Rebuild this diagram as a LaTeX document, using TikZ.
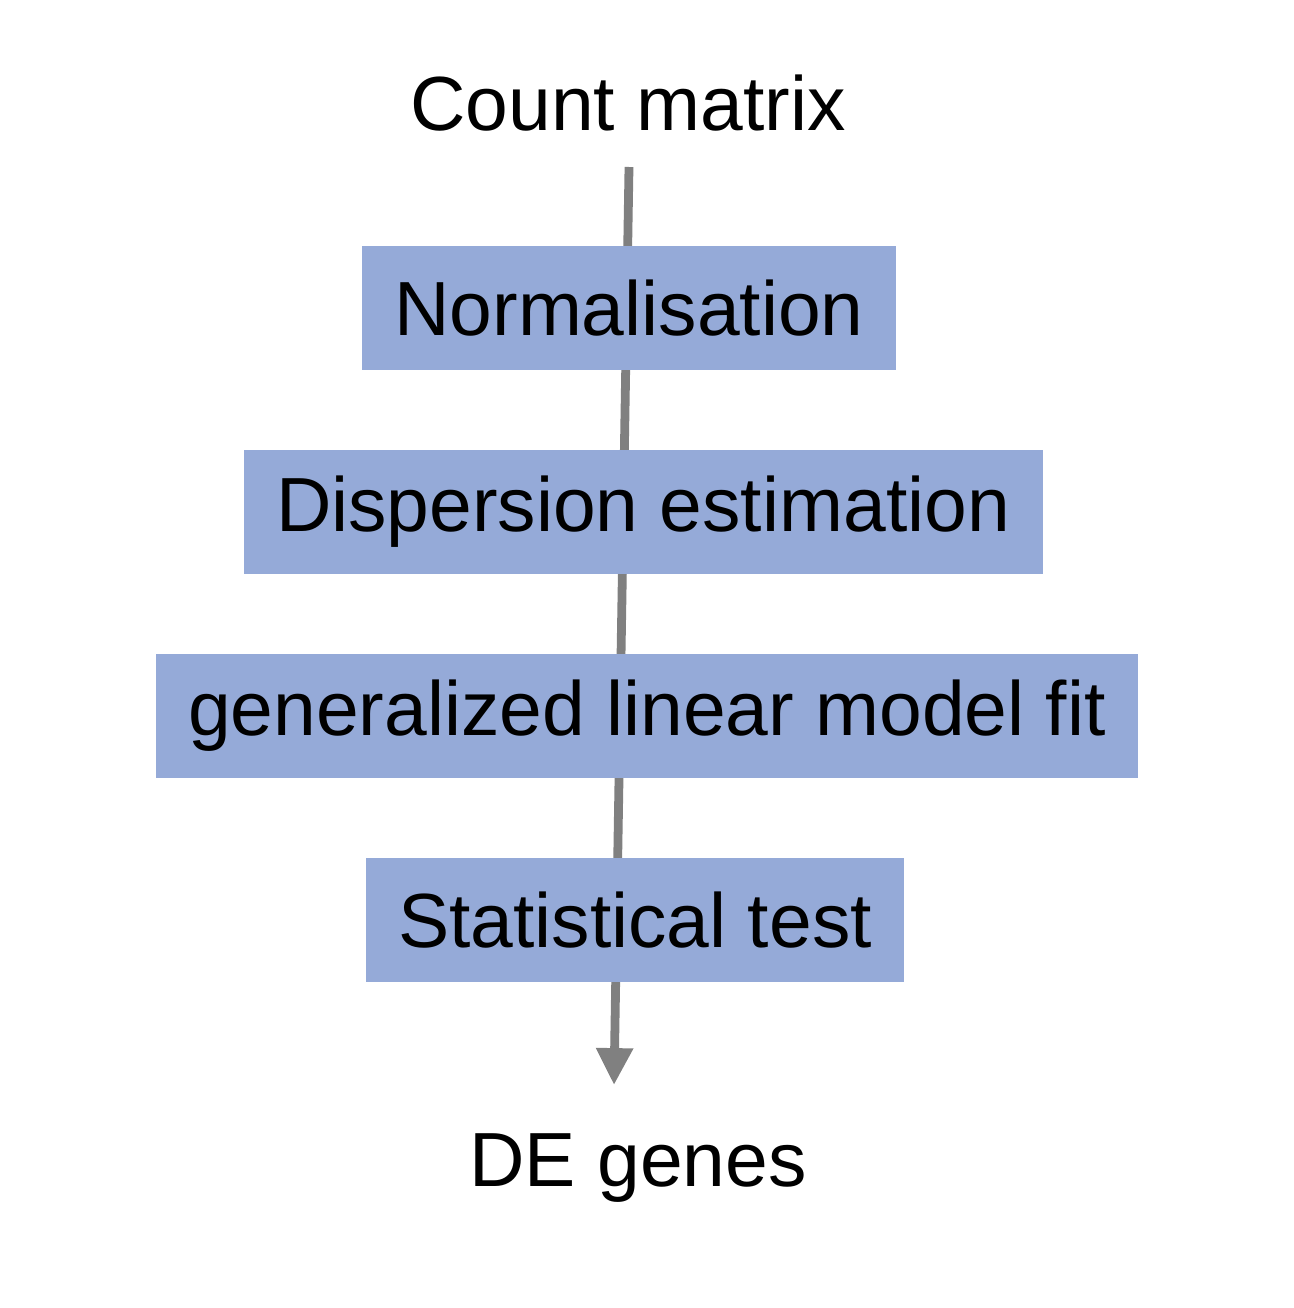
\documentclass[tikz,border=0pt]{standalone}
\usepackage{fontspec}
\setmainfont{Liberation Sans}
\usetikzlibrary{arrows.meta}
\definecolor{stepblue}{RGB}{149,170,216}
\definecolor{flowgray}{RGB}{128,128,128}
\tikzset{
  stepbox/.style={fill=stepblue, inner xsep=18.5pt, minimum height=70.3pt, font=\fontsize{43.7}{50}\selectfont},
  label/.style={font=\fontsize{43.7}{50}\selectfont},
  flow/.style={draw=flowgray, line width=5pt, -{Triangle[width=20pt,length=21pt]}}
}
\begin{document}
\begin{tikzpicture}[x=0.02cm,y=-0.02cm]
    \useasboundingbox (0,0) rectangle (1294,1308);
    \node[label] (count) at (628,103) {Count matrix};
    \node[label] (de) at (638,1168) {DE genes};
    \coordinate (start) at (629,167);
    \coordinate (finish) at (614,1085);
    \draw[flow] (start) -- (finish);
    \node[stepbox] (norm) at (629,308) {Normalisation};
    \node[stepbox] (disp) at (643,512) {Dispersion estimation};
    \node[stepbox] (glm) at (647,716) {generalized linear model fit};
    \node[stepbox] (test) at (635,920) {Statistical test};
\end{tikzpicture}
\end{document}
